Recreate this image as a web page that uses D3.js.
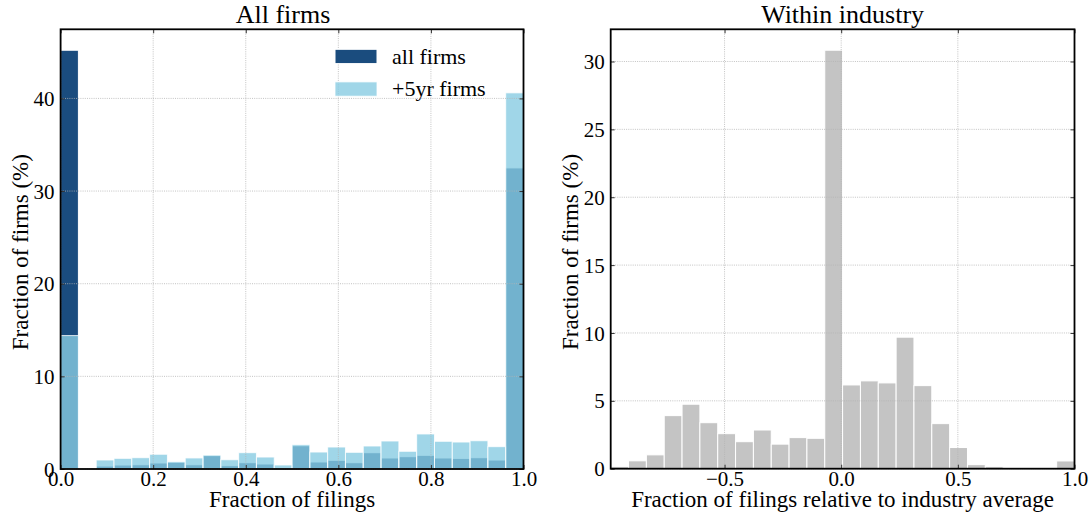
<!DOCTYPE html>
<html><head><meta charset="utf-8">
<script src="https://cdn.jsdelivr.net/npm/d3@7"></script>
<style>
body{margin:0;background:#fff}
svg{display:block}
text{font-family:"Liberation Serif","Times New Roman",serif;fill:#000}
</style>
</head><body>
<svg id="c" width="1092" height="523"></svg>
<script>
// ---------- data ----------
const leftBinCount = 26;                     // bins over [0, 1]
const allFirms = [45.2, 0, 0.32, 0.43, 0.46, 0.65, 0.74, 0.46, 1.44, 0.36, 0.68, 0.54, 0.1,
                  2.51, 0.76, 0.94, 0.68, 1.76, 1.19, 1.33, 1.48, 1.19, 1.15, 1.22, 0.97, 32.5];
const firms5yr = [14.4, 0, 0.97, 1.15, 1.22, 1.59, 0.78, 1.19, 1.5, 1.0, 1.76, 1.29, 0.43,
                  2.62, 1.83, 2.37, 1.8, 2.48, 3.02, 1.91, 3.78, 2.99, 2.91, 3.05, 2.41, 40.6];
const industryRange = [-0.988, 1.0];        // bins over this range
const industry = [0.15, 0.58, 1.02, 3.91, 4.75, 3.39, 2.58, 1.99, 2.85, 1.81, 2.29, 2.24, 30.83,
                  6.17, 6.47, 6.32, 9.69, 6.12, 3.32, 1.56, 0.3, 0.15, 0, 0, 0, 0.57];
const leftXTicks = [0, 0.2, 0.4, 0.6, 0.8, 1.0];
const leftYTicks = [0, 10, 20, 30, 40];
const rightXTicks = [-0.5, 0, 0.5, 1.0];
const rightYTicks = [0, 5, 10, 15, 20, 25, 30];
const titles = ["All firms", "Within industry"];
const xLabels = ["Fraction of filings", "Fraction of filings relative to industry average"];
const yLabel = "Fraction of firms (%)";
const legendLabels = ["all firms", "+5yr firms"];

// ---------- style ----------
const NAVY = "#1a4c7e", LIGHT = "#88cce2", LIGHT_ALPHA = 0.8, GRAY = "#c4c4c4";
const svg = d3.select("#c");
const fmt = d3.format(".1f");

function makeBins(lo, hi, values) {
  const w = (hi - lo) / values.length;
  return values.map((v, i) => ({x0: lo + i * w, x1: lo + (i + 1) * w, v}));
}

function panel(cfg) {
  const g = svg.append("g");
  const x = d3.scaleLinear().domain(cfg.xDomain).range([cfg.x0, cfg.x1]);
  const y = d3.scaleLinear().domain([0, cfg.yMax]).range([cfg.y1, cfg.y0]);
  const clipId = "clip" + cfg.id;
  svg.append("clipPath").attr("id", clipId).append("rect")
    .attr("x", cfg.x0).attr("y", cfg.y0).attr("width", cfg.x1 - cfg.x0).attr("height", cfg.y1 - cfg.y0);
  const bars = g.append("g").attr("clip-path", `url(#${clipId})`);
  cfg.series.forEach(s => {
    bars.append("g").selectAll("rect").data(s.bins.filter(d => d.v > 0)).join("rect")
      .attr("x", d => x(d.x0)).attr("width", d => x(d.x1) - x(d.x0))
      .attr("y", d => y(d.v)).attr("height", d => y(0) - y(d.v))
      .attr("fill", s.color).attr("fill-opacity", s.alpha)
      .attr("stroke", "#fff").attr("stroke-width", 1).attr("stroke-opacity", s.alpha);
  });
  // grid (drawn above bars, like matplotlib)
  const grid = g.append("g").attr("stroke", "#b4b4b4").attr("stroke-width", 0.8).attr("stroke-dasharray", "1,1.2");
  cfg.xTicks.forEach(t => grid.append("line").attr("x1", x(t)).attr("x2", x(t)).attr("y1", cfg.y0).attr("y2", cfg.y1));
  cfg.yTicks.forEach(t => grid.append("line").attr("y1", y(t)).attr("y2", y(t)).attr("x1", cfg.x0).attr("x2", cfg.x1));

  // axes with inward ticks
  const bottom = g.append("g").attr("transform", `translate(0,${cfg.y1})`)
    .call(d3.axisBottom(x).tickValues(cfg.xTicks).tickFormat(fmt).tickSizeInner(-4).tickSizeOuter(0).tickPadding(2.5));
  const top = g.append("g").attr("transform", `translate(0,${cfg.y0})`)
    .call(d3.axisTop(x).tickValues(cfg.xTicks).tickFormat("").tickSizeInner(-4).tickSizeOuter(0));
  const left = g.append("g").attr("transform", `translate(${cfg.x0},0)`)
    .call(d3.axisLeft(y).tickValues(cfg.yTicks).tickFormat(d3.format("d")).tickSizeInner(-4).tickSizeOuter(0).tickPadding(6));
  const right = g.append("g").attr("transform", `translate(${cfg.x1},0)`)
    .call(d3.axisRight(y).tickValues(cfg.yTicks).tickFormat("").tickSizeInner(-4).tickSizeOuter(0));
  [bottom, top, left, right].forEach(a => {
    a.select(".domain").remove();
    a.selectAll(".tick line").attr("stroke", "#333").attr("stroke-width", 1);
    a.selectAll("text").attr("font-family", "Liberation Serif").attr("font-size", 21).attr("fill", "#000");
  });
  left.selectAll("text").attr("dy", "0.34em");

  // frame
  g.append("rect").attr("x", cfg.x0).attr("y", cfg.y0).attr("width", cfg.x1 - cfg.x0).attr("height", cfg.y1 - cfg.y0)
    .attr("fill", "none").attr("stroke", "#000").attr("stroke-width", 1.8);

  // texts
  g.append("text").attr("x", cfg.titleX).attr("y", 22.7).attr("text-anchor", "middle")
    .attr("font-size", 26).text(cfg.title);
  g.append("text").attr("x", (cfg.x0 + cfg.x1) / 2).attr("y", 507).attr("text-anchor", "middle")
    .attr("font-size", 23).text(cfg.xLabel);
  g.append("text").attr("transform", `translate(${cfg.x0 - 32.6},${(cfg.y0 + cfg.y1) / 2 + 3}) rotate(-90)`)
    .attr("text-anchor", "middle").attr("font-size", 23).text(yLabel);
  return {x, y, g};
}

const leftYMax = d3.max([...allFirms, ...firms5yr]) * 1.05;
const L = panel({
  id: "L", x0: 60.6, x1: 523.5, y0: 29.3, y1: 469, xDomain: [0, 1], yMax: leftYMax,
  xTicks: leftXTicks, yTicks: leftYTicks, title: titles[0], titleX: 283, xLabel: xLabels[0],
  series: [
    {bins: makeBins(0, 1, allFirms), color: NAVY, alpha: 1},
    {bins: makeBins(0, 1, firms5yr), color: LIGHT, alpha: LIGHT_ALPHA}
  ]
});

const R = panel({
  id: "R", x0: 610.7, x1: 1074.5, y0: 29.3, y1: 468.7, xDomain: industryRange, yMax: d3.max(industry) * 1.05,
  xTicks: rightXTicks, yTicks: rightYTicks, title: titles[1], titleX: (610.7 + 1074.5) / 2, xLabel: xLabels[1],
  series: [{bins: makeBins(industryRange[0], industryRange[1], industry), color: GRAY, alpha: 1}]
});

// legend (left panel)
const leg = L.g.append("g");
[{c: NAVY, a: 1}, {c: LIGHT, a: LIGHT_ALPHA}].forEach((s, i) => {
  const top = 49.3 + i * 32.6;
  leg.append("rect").attr("x", 335).attr("y", top).attr("width", 42).attr("height", 14.3)
    .attr("fill", s.c).attr("fill-opacity", s.a).attr("stroke", "#fff").attr("stroke-opacity", s.a).attr("stroke-width", 1);
  leg.append("text").attr("x", 392).attr("y", top + 14.3).attr("font-size", 22).text(legendLabels[i]);
});
</script>
</body></html>
